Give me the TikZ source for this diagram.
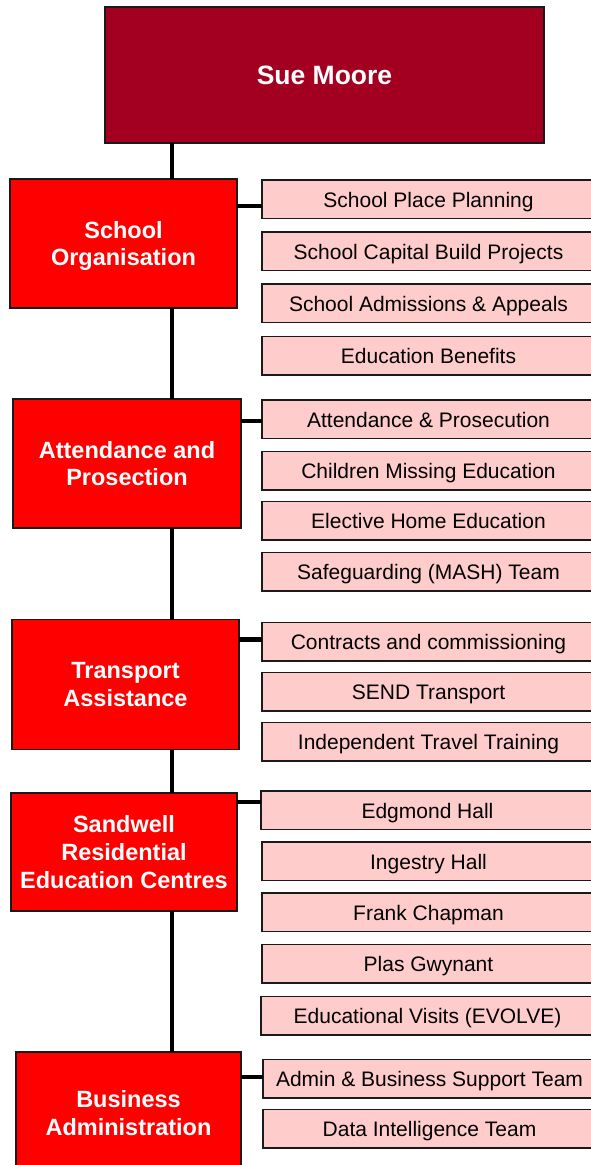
\documentclass[tikz,border=0pt]{standalone}
\usepackage{fontspec}
\setmainfont{Liberation Sans}
\definecolor{topred}{HTML}{A30021}
\definecolor{mainred}{HTML}{FF0000}
\definecolor{pink}{HTML}{FFCCCC}
\definecolor{edge}{HTML}{1A1A1A}
\tikzset{
  box/.style={draw=edge, line width=1.2pt, anchor=north west, inner sep=0pt, outer sep=0pt, align=center},
  topbox/.style={box, fill=topred, text=white, font=\fontsize{26.5}{31}\selectfont\bfseries},
  redbox/.style={box, fill=mainred, text=white, font=\fontsize{23.5}{27.7}\selectfont\bfseries},
  subbox/.style={box, fill=pink, text=black, minimum width=333pt, minimum height=38.5pt, text height=16pt, text depth=0pt, font=\fontsize{21}{25}\selectfont},
  conn/.style={line width=4.5pt, draw=black}
}
\begin{document}
\begin{tikzpicture}[x=1pt,y=-1pt]
\useasboundingbox (0,0) rectangle (591,1165);
\clip (0,0) rectangle (591,1165);
% trunk x-position and stub heights
\coordinate (t) at (172,0);
\coordinate (s1) at (0,206);
\coordinate (s2) at (0,421);
\coordinate (s3) at (0,639.5);
\coordinate (s4) at (0,802);
\coordinate (s5) at (0,1077);
% main boxes
\node[topbox, minimum width=439pt, minimum height=136pt] (sue) at (105,7) {Sue Moore};
\node[redbox, minimum width=227pt, minimum height=129pt, text depth=-3pt] (so) at (10,179) {School\\Organisation};
\node[redbox, minimum width=228pt, minimum height=129pt, text depth=-3pt] (ap) at (13,399) {Attendance and\\Prosection};
\node[redbox, minimum width=227pt, minimum height=130pt, text depth=-4pt] (ta) at (12,619.5) {Transport\\Assistance};
\node[redbox, minimum width=226pt, minimum height=118pt, text depth=-1pt] (sr) at (11,793) {Sandwell\\Residential\\Education Centres};
\node[redbox, minimum width=225pt, minimum height=122pt] (ba) at (16,1052) {Business\\Administration};
% sub boxes
\node[subbox] (so1) at (262,180) {School Place Planning};
\node[subbox] (so2) at (262,232) {School Capital Build Projects};
\node[subbox] (so3) at (262,284) {School Admissions \& Appeals};
\node[subbox] (so4) at (262,336.5) {Education Benefits};
\node[subbox] (ap1) at (262,400) {Attendance \& Prosecution};
\node[subbox] (ap2) at (262,451.5) {Children Missing Education};
\node[subbox] (ap3) at (262,501.5) {Elective Home Education};
\node[subbox] (ap4) at (262,552.5) {Safeguarding (MASH) Team};
\node[subbox] (ta1) at (262,622.5) {Contracts and commissioning};
\node[subbox] (ta2) at (262,672.5) {SEND Transport};
\node[subbox] (ta3) at (262,722.5) {Independent Travel Training};
\node[subbox] (sr1) at (261,791) {Edgmond Hall};
\node[subbox] (sr2) at (262,842) {Ingestry Hall};
\node[subbox] (sr3) at (262,893) {Frank Chapman};
\node[subbox] (sr4) at (262,944.5) {Plas Gwynant};
\node[subbox] (sr5) at (261,996.5) {Educational Visits (EVOLVE)};
\node[subbox] (ba1) at (263,1059.5) {Admin \& Business Support Team};
\node[subbox] (ba2) at (263,1109.5) {Data Intelligence Team};
% trunk connectors
\draw[conn] (sue.south -| t) -- (so.north -| t);
\draw[conn] (so.south -| t) -- (ap.north -| t);
\draw[conn] (ap.south -| t) -- (ta.north -| t);
\draw[conn] (ta.south -| t) -- (sr.north -| t);
\draw[conn] (sr.south -| t) -- (ba.north -| t);
% stubs
\draw[conn] (so.east |- s1) -- (so1.west |- s1);
\draw[conn] (ap.east |- s2) -- (ap1.west |- s2);
\draw[conn] (ta.east |- s3) -- (ta1.west |- s3);
\draw[conn] (sr.east |- s4) -- (sr1.west |- s4);
\draw[conn] (ba.east |- s5) -- (ba1.west |- s5);
\end{tikzpicture}
\end{document}
